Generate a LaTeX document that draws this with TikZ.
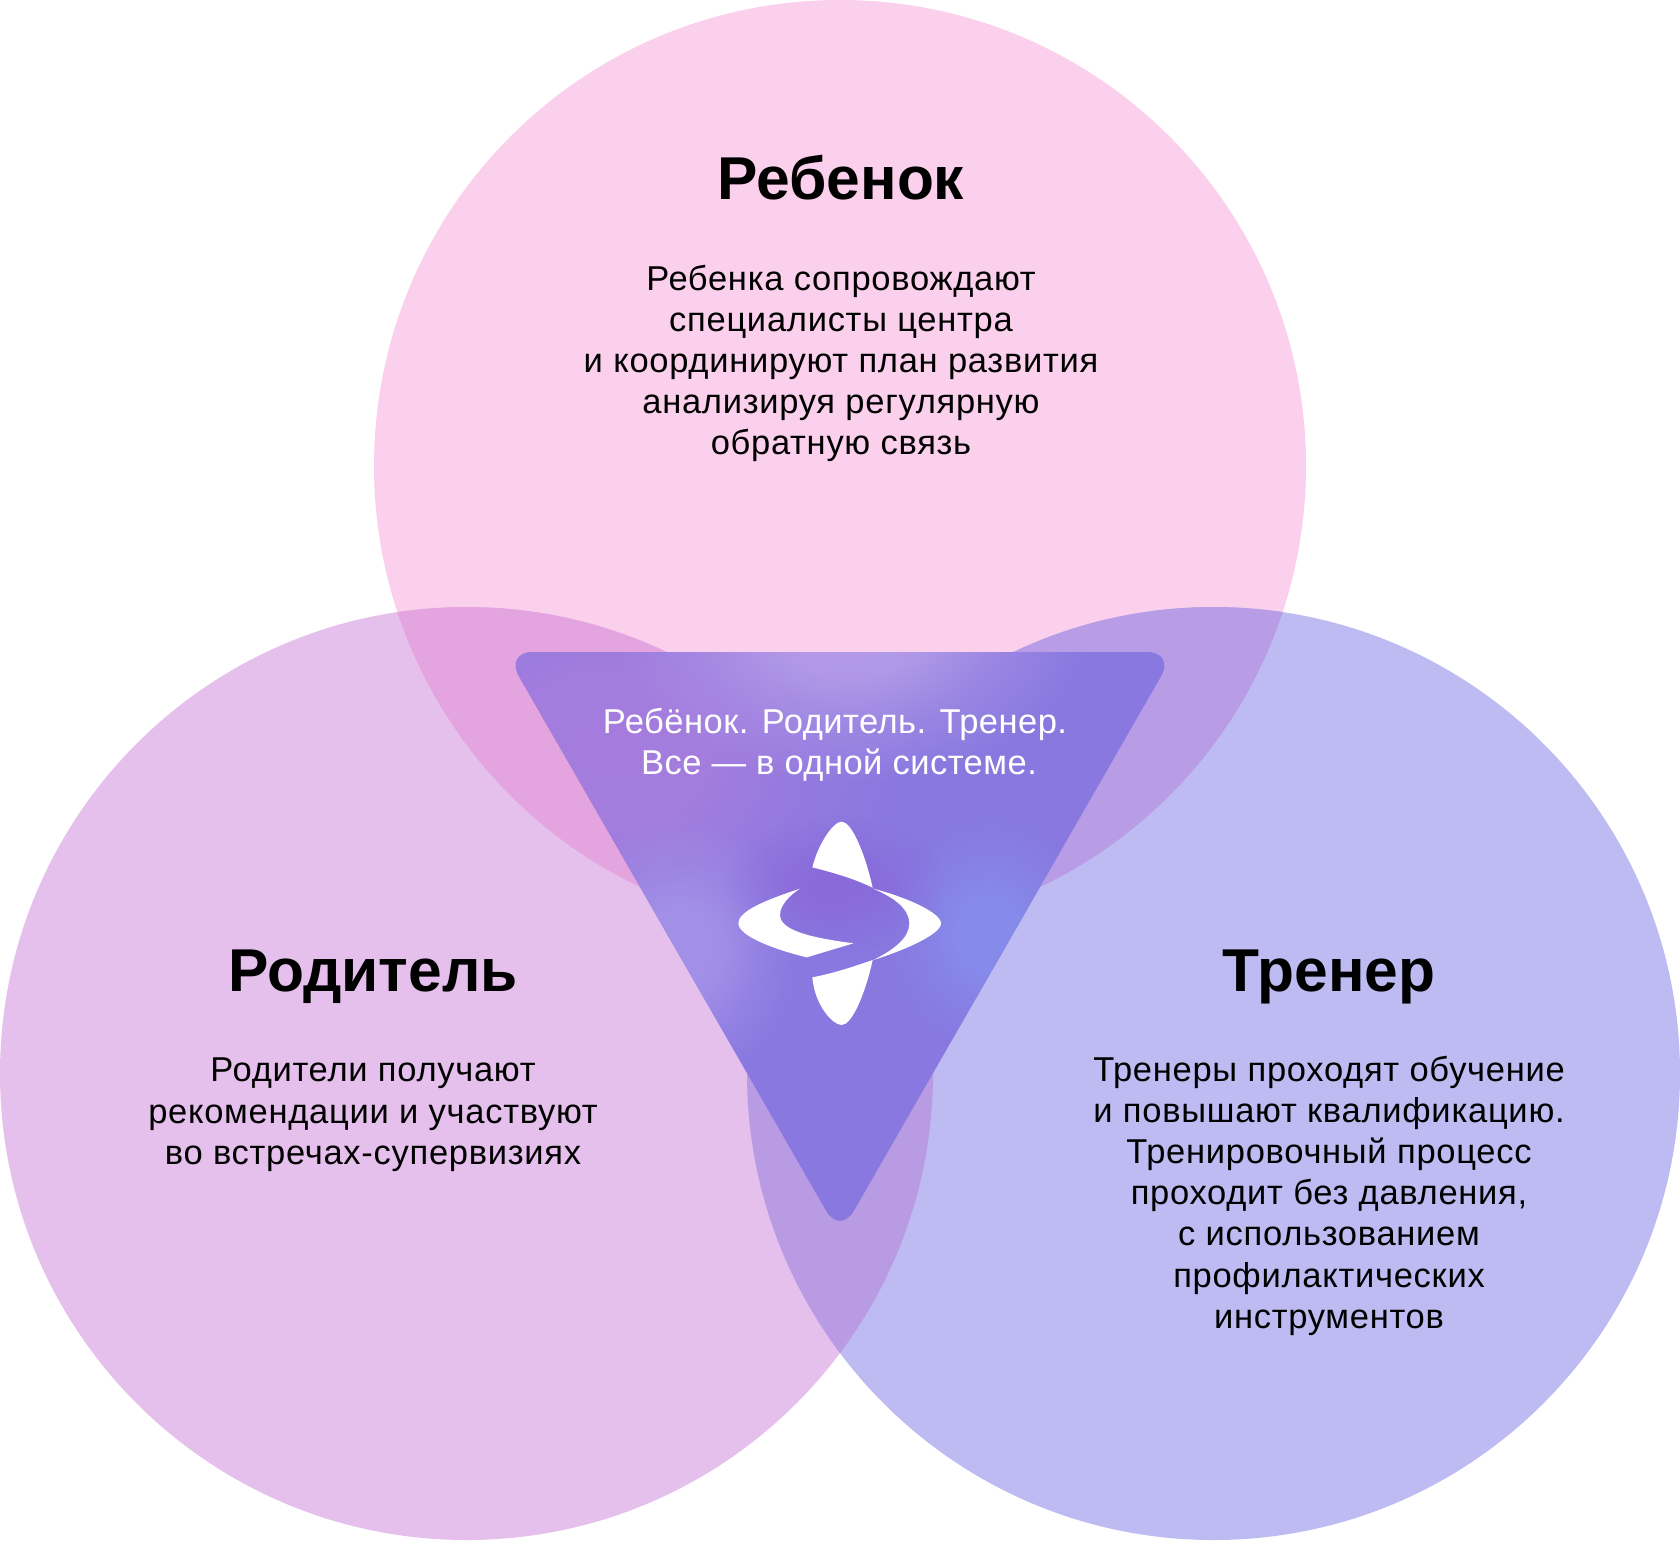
\documentclass[tikz,border=0pt]{standalone}
\usepackage{fontspec}
\setmainfont{Liberation Sans}
\usetikzlibrary{fadings}
\definecolor{cTop}{HTML}{FBD0EC}
\definecolor{cLeft}{HTML}{E6C0EC}
\definecolor{cRight}{HTML}{BDBBF2}
\definecolor{cTL}{HTML}{E3A4E0}
\definecolor{cTR}{HTML}{B89CE5}
\definecolor{cLR}{HTML}{B99BE3}
\definecolor{cBase}{HTML}{8878E0}
\pgfdeclareradialshading{softshade}{\pgfpointorigin}{color(0bp)=(pgftransparent!0); color(8bp)=(pgftransparent!10); color(16bp)=(pgftransparent!60); color(25bp)=(pgftransparent!100); color(50bp)=(pgftransparent!100)}
\pgfdeclarefading{softblob}{\pgfuseshading{softshade}}
\tikzset{
  x=1pt,y=-1pt,
  heading/.style={font=\fontsize{60.5}{66}\selectfont\bfseries,text=black,inner sep=0pt,anchor=base},
  bodytext/.style={font=\fontsize{34.5}{41.1}\selectfont\addfontfeature{LetterSpace=2.1},text=black,align=center,inner sep=0pt,anchor=north},
  tritext/.style={font=\fontsize{34.5}{41.1}\selectfont\addfontfeature{LetterSpace=1.4},text=white,align=center,inner sep=0pt,anchor=north},
  blob/.style={path fading=softblob},
  logopart/.style={fill=white,draw=none},
}
\begin{document}
\begin{tikzpicture}
\useasboundingbox (0,0) rectangle (1680,1540);
\fill[white] (0,0) rectangle (1680,1540);
\def\ctop{(840,466) circle[radius=466]}
\def\cleft{(466.5,1073.5) circle[radius=466.5]}
\def\cright{(1213.5,1073.5) circle[radius=466.5]}
\fill[cTop] \ctop;
\fill[cLeft] \cleft;
\fill[cRight] \cright;
\begin{scope}\clip \ctop; \fill[cTL] \cleft; \end{scope}
\begin{scope}\clip \ctop; \fill[cTR] \cright; \end{scope}
\begin{scope}\clip \cleft; \fill[cLR] \cright; \end{scope}
\begin{scope}
  \clip[rounded corners=28] (505,652) -- (1175,652) -- (840,1235) -- cycle;
  \fill[cBase] (480,640) rectangle (1200,1250);
  \fill[blob,color={rgb,255:red,166;green,125;blue,222}] (610,750) ellipse[x radius=310,y radius=240];
  \fill[blob,color={rgb,255:red,164;green,146;blue,232}] (680,950) ellipse[x radius=120,y radius=140];
  \fill[blob,color={rgb,255:red,180;green,156;blue,232}] (850,625) ellipse[x radius=240,y radius=160];
  \fill[blob,color={rgb,255:red,134;green,140;blue,236}] (990,935) ellipse[x radius=105,y radius=120];
  \fill[blob,color={rgb,255:red,138;green,106;blue,218}] (835,885) ellipse[x radius=110,y radius=70];
\end{scope}
\begin{scope}[shift={(720,810)},scale=1/3]
  \fill[logopart] (277,172) .. controls (295,100) and (340,35) .. (365,35) .. controls (395,35) and (435,130) .. (458,233) .. controls (400,205) and (340,188) .. (277,172) -- cycle;
  \fill[logopart] (458,450) .. controls (435,555) and (395,645) .. (365,645) .. controls (340,645) and (285,590) .. (277,502) .. controls (340,490) and (400,470) .. (458,450) -- cycle;
  \fill[logopart] (240,236) .. controls (130,272) and (55,305) .. (55,340) .. controls (55,375) and (150,415) .. (260,442) -- (400,400) .. controls (290,385) and (180,365) .. (180,315) .. controls (180,285) and (210,255) .. (240,236) -- cycle;
  \fill[logopart] (460,236) .. controls (570,265) and (663,310) .. (663,340) .. controls (663,370) and (570,415) .. (460,450) .. controls (520,420) and (568,385) .. (568,340) .. controls (568,295) and (520,262) .. (460,236) -- cycle;
\end{scope}
\node[heading] (t1) at (841,199) {Ребенок};
\node[heading] (t2) at (373,991) {Родитель};
\node[heading] (t3) at (1329,991) {Тренер};
\node[bodytext] (b1) at (841,265) {Ребенка сопровождают\\специалисты центра\\и координируют план развития\\анализируя регулярную\\обратную связь};
\node[bodytext] (b2) at (373,1058) {Родители получают\\рекомендации и участвуют\\во встречах-супервизиях};
\node[bodytext] (b3) at (1329,1056) {Тренеры проходят обучение\\и повышают квалификацию.\\Тренировочный процесс\\проходит без давления,\\с использованием\\профилактических\\инструментов};
\node[tritext] (b4) at (837,708) {Ребёнок. Родитель. Тренер.\hspace*{4pt}\\\hspace*{4pt}Все — в одной системе.};
\end{tikzpicture}
\end{document}
